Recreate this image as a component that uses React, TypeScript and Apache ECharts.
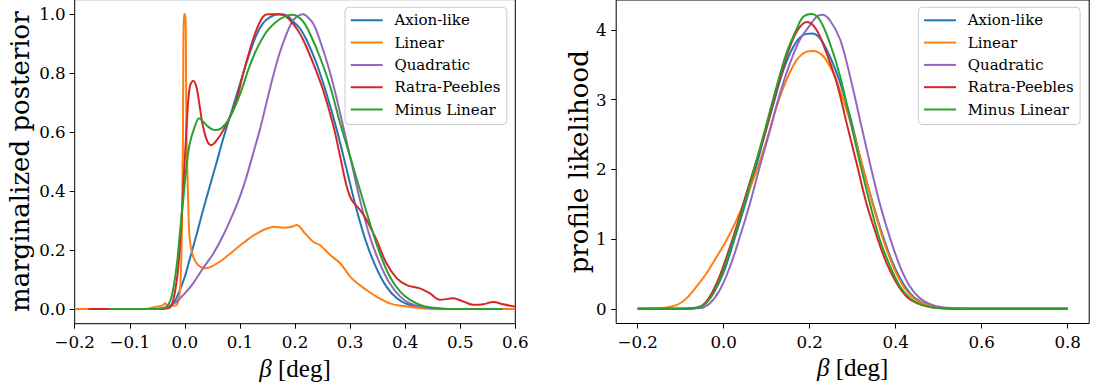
import React, { useEffect, useRef } from 'react';
import * as echarts from 'echarts';

const FONT = 'DejaVu Serif';
const MATH_FONT = 'Liberation Serif';

const seriesNames = ['Axion-like', 'Linear', 'Quadratic', 'Ratra-Peebles', 'Minus Linear'];
const seriesColors = ['#1f77b4', '#ff7f0e', '#9467bd', '#d62728', '#2ca02c'];

const posteriorXTicks = [-0.2, -0.1, 0, 0.1, 0.2, 0.3, 0.4, 0.5, 0.6];
const posteriorYTicks = [0, 0.2, 0.4, 0.6, 0.8, 1.0];
const likelihoodXTicks = [-0.2, 0, 0.2, 0.4, 0.6, 0.8];
const likelihoodYTicks = [0, 1, 2, 3, 4];

// Left panel: marginalized posterior, [beta, value]
const axionPosterior = [
  [-0.2, 0], [-0.1, 0], [-0.05, 0], [-0.033, 0.005], [-0.021, 0.019], [-0.009, 0.064], [0, 0.11],
  [0.009, 0.17], [0.021, 0.25], [0.033, 0.335], [0.045, 0.415], [0.058, 0.5], [0.07, 0.58],
  [0.088, 0.69], [0.106, 0.80], [0.118, 0.87], [0.13, 0.93], [0.142, 0.97], [0.154, 0.99],
  [0.17, 1.0], [0.185, 0.996], [0.197, 0.975], [0.209, 0.952], [0.221, 0.913], [0.239, 0.834],
  [0.257, 0.732], [0.276, 0.607], [0.294, 0.472], [0.312, 0.336], [0.33, 0.223], [0.348, 0.138],
  [0.366, 0.076], [0.385, 0.036], [0.403, 0.017], [0.433, 0.006], [0.463, 0.001], [0.5, 0], [0.6, 0],
];
const linearPosterior = [
  [-0.2, 0], [-0.07, 0], [-0.06, 0.004], [-0.05, 0.008], [-0.04, 0.012], [-0.036, 0.019],
  [-0.03, 0.01], [-0.015, 0.014], [-0.008, 0.087], [-0.004, 0.48], [-0.0015, 1.0], [0.0008, 1.0],
  [0.003, 0.6], [0.0063, 0.347], [0.009, 0.234], [0.015, 0.178], [0.024, 0.149], [0.036, 0.138],
  [0.048, 0.144], [0.064, 0.161], [0.079, 0.183], [0.094, 0.206], [0.109, 0.228], [0.121, 0.245],
  [0.136, 0.262], [0.151, 0.274], [0.163, 0.279], [0.179, 0.276], [0.194, 0.279], [0.203, 0.285],
  [0.218, 0.257], [0.233, 0.228], [0.245, 0.217], [0.264, 0.183], [0.282, 0.155], [0.3, 0.11],
  [0.312, 0.089], [0.33, 0.064], [0.348, 0.042], [0.372, 0.019], [0.403, 0.008], [0.433, 0.002],
  [0.5, 0], [0.6, 0],
];
const quadraticPosterior = [
  [-0.15, 0], [-0.05, 0], [-0.033, 0.005], [-0.015, 0.025], [0, 0.053], [0.015, 0.087],
  [0.033, 0.138], [0.052, 0.189], [0.07, 0.251], [0.088, 0.325], [0.1, 0.381], [0.112, 0.449],
  [0.124, 0.528], [0.136, 0.607], [0.148, 0.698], [0.16, 0.788], [0.172, 0.868], [0.185, 0.935],
  [0.197, 0.981], [0.209, 0.998], [0.215, 1.0], [0.221, 0.994], [0.233, 0.969], [0.245, 0.913],
  [0.264, 0.8], [0.282, 0.664], [0.3, 0.517], [0.318, 0.37], [0.336, 0.245], [0.354, 0.155],
  [0.372, 0.087], [0.391, 0.042], [0.409, 0.019], [0.433, 0.006], [0.463, 0.001], [0.5, 0], [0.57, 0],
];
const ratraPeeblesPosterior = [
  [-0.175, 0], [-0.05, 0], [-0.03, 0.002], [-0.021, 0.03], [-0.012, 0.14], [-0.006, 0.31],
  [0.0, 0.51], [0.005, 0.675], [0.009, 0.754], [0.015, 0.775], [0.021, 0.754], [0.027, 0.687],
  [0.033, 0.619], [0.041, 0.568], [0.048, 0.556], [0.058, 0.573], [0.07, 0.607], [0.085, 0.664],
  [0.094, 0.709], [0.106, 0.8], [0.118, 0.879], [0.13, 0.947], [0.142, 0.992], [0.151, 1.0],
  [0.167, 1.0], [0.179, 0.998], [0.191, 0.98], [0.203, 0.952], [0.215, 0.913], [0.233, 0.834],
  [0.251, 0.743], [0.27, 0.619], [0.282, 0.517], [0.294, 0.415], [0.303, 0.37], [0.318, 0.336],
  [0.33, 0.302], [0.348, 0.234], [0.366, 0.155], [0.385, 0.104], [0.403, 0.081], [0.427, 0.07],
  [0.445, 0.053], [0.463, 0.031], [0.487, 0.036], [0.506, 0.025], [0.524, 0.014], [0.542, 0.016],
  [0.56, 0.024], [0.578, 0.016], [0.6, 0.008],
];
const minusLinearPosterior = [
  [-0.136, 0], [-0.05, 0], [-0.033, 0.008], [-0.024, 0.042], [-0.015, 0.144], [-0.009, 0.257],
  [-0.003, 0.37], [0.003, 0.483], [0.009, 0.562], [0.018, 0.619], [0.026, 0.647], [0.033, 0.636],
  [0.042, 0.619], [0.054, 0.607], [0.066, 0.613], [0.079, 0.641], [0.091, 0.687], [0.103, 0.743],
  [0.115, 0.811], [0.127, 0.868], [0.139, 0.913], [0.151, 0.947], [0.166, 0.975], [0.181, 0.992],
  [0.194, 0.999], [0.203, 0.995], [0.215, 0.975], [0.227, 0.935], [0.245, 0.856], [0.264, 0.754],
  [0.282, 0.63], [0.3, 0.517], [0.318, 0.404], [0.336, 0.291], [0.354, 0.189], [0.372, 0.11],
  [0.391, 0.059], [0.409, 0.031], [0.433, 0.01], [0.463, 0.002], [0.5, 0], [0.577, 0],
];

// Right panel: profile likelihood, [beta, value]
const axionLikelihood = [
  [-0.2, 0], [-0.1, 0], [-0.071, 0.01], [-0.047, 0.057], [-0.024, 0.225], [-0.001, 0.51],
  [0.022, 0.94], [0.046, 1.42], [0.069, 1.9], [0.092, 2.42], [0.116, 2.95], [0.139, 3.43],
  [0.162, 3.76], [0.185, 3.93], [0.205, 3.95], [0.224, 3.88], [0.247, 3.62], [0.271, 3.24],
  [0.294, 2.76], [0.317, 2.18], [0.34, 1.66], [0.363, 1.18], [0.387, 0.75], [0.41, 0.44],
  [0.433, 0.225], [0.456, 0.105], [0.487, 0.033], [0.526, 0.005], [0.6, 0], [0.8, 0],
];
const linearLikelihood = [
  [-0.2, 0], [-0.148, 0.01], [-0.109, 0.057], [-0.086, 0.153], [-0.063, 0.32], [-0.04, 0.51],
  [-0.016, 0.75], [0.007, 0.99], [0.03, 1.276], [0.053, 1.61], [0.077, 1.99], [0.1, 2.42],
  [0.123, 2.9], [0.146, 3.28], [0.17, 3.57], [0.193, 3.69], [0.208, 3.7], [0.232, 3.62],
  [0.255, 3.38], [0.278, 3.0], [0.302, 2.52], [0.325, 1.99], [0.348, 1.47], [0.371, 0.99],
  [0.394, 0.61], [0.418, 0.32], [0.441, 0.153], [0.464, 0.072], [0.495, 0.024], [0.534, 0.005],
  [0.6, 0], [0.8, 0],
];
const quadraticLikelihood = [
  [-0.2, 0], [-0.1, 0], [-0.055, 0.01], [-0.032, 0.081], [-0.009, 0.27], [0.015, 0.61],
  [0.038, 1.04], [0.061, 1.51], [0.084, 2.04], [0.108, 2.57], [0.131, 3.09], [0.154, 3.52],
  [0.177, 3.86], [0.201, 4.07], [0.216, 4.19], [0.229, 4.22], [0.247, 4.14], [0.271, 3.86],
  [0.294, 3.33], [0.317, 2.71], [0.34, 2.09], [0.363, 1.51], [0.387, 1.01], [0.41, 0.61],
  [0.433, 0.32], [0.456, 0.153], [0.48, 0.067], [0.511, 0.019], [0.55, 0.003], [0.6, 0], [0.8, 0],
];
const ratraPeeblesLikelihood = [
  [-0.2, 0], [-0.1, 0], [-0.063, 0.01], [-0.04, 0.105], [-0.016, 0.37], [0.007, 0.75],
  [0.03, 1.18], [0.053, 1.66], [0.077, 2.14], [0.1, 2.61], [0.123, 3.14], [0.146, 3.62],
  [0.17, 3.98], [0.194, 4.115], [0.216, 4.0], [0.239, 3.67], [0.263, 3.24], [0.286, 2.66],
  [0.309, 2.09], [0.332, 1.51], [0.356, 1.04], [0.379, 0.65], [0.402, 0.37], [0.425, 0.177],
  [0.449, 0.081], [0.48, 0.024], [0.519, 0.005], [0.6, 0], [0.8, 0],
];
const minusLinearLikelihood = [
  [-0.2, 0], [-0.1, 0], [-0.063, 0.01], [-0.04, 0.09], [-0.016, 0.32], [0.007, 0.7],
  [0.03, 1.13], [0.053, 1.61], [0.077, 2.14], [0.1, 2.66], [0.123, 3.19], [0.146, 3.67],
  [0.17, 4.02], [0.185, 4.19], [0.205, 4.23], [0.224, 4.14], [0.247, 3.81], [0.271, 3.33],
  [0.294, 2.71], [0.317, 2.09], [0.34, 1.51], [0.363, 0.99], [0.387, 0.61], [0.41, 0.32],
  [0.433, 0.153], [0.456, 0.067], [0.487, 0.019], [0.526, 0.003], [0.6, 0], [0.8, 0],
];

const posteriorData = [axionPosterior, linearPosterior, quadraticPosterior, ratraPeeblesPosterior, minusLinearPosterior];
const likelihoodData = [axionLikelihood, linearLikelihood, quadraticLikelihood, ratraPeeblesLikelihood, minusLinearLikelihood];

const fmt = (digits: number) => (v: number) => {
  const s = Math.abs(v).toFixed(digits);
  return v < -1e-9 ? '\u2212' + s : s;
};

const TICK_FONT = 16.7;
const LABEL_FONT = 26;
const XLABEL_FONT = 25;

function xAxisCfg(gridIndex: number, min: number, max: number, ticks: number[], digits: number, gap: number) {
  return {
    type: 'value', gridIndex, min, max,
    axisLine: { show: false, onZero: false },
    splitLine: { show: false },
    axisTick: { show: true, inside: false, length: 5, customValues: ticks, lineStyle: { color: '#000', width: 1 } },
    axisLabel: {
      customValues: ticks, formatter: fmt(digits), margin: 10, color: '#000',
      fontFamily: FONT, fontSize: TICK_FONT, hideOverlap: false,
    },
    name: '{i|β} [deg]', nameLocation: 'middle', nameGap: gap,
    nameTextStyle: {
      fontFamily: MATH_FONT, fontSize: XLABEL_FONT, color: '#000',
      rich: { i: { fontFamily: MATH_FONT, fontSize: XLABEL_FONT, fontStyle: 'italic', color: '#000' } },
    },
  };
}

function yAxisCfg(gridIndex: number, min: number, max: number, ticks: number[], digits: number, name: string, gap: number, margin: number) {
  return {
    type: 'value', gridIndex, min, max,
    axisLine: { show: false, onZero: false },
    splitLine: { show: false },
    axisTick: { show: true, inside: false, length: 5, customValues: ticks, lineStyle: { color: '#000', width: 1 } },
    axisLabel: {
      customValues: ticks, formatter: fmt(digits), margin, color: '#000',
      fontFamily: FONT, fontSize: TICK_FONT, hideOverlap: false,
    },
    name, nameLocation: 'middle', nameGap: gap, nameRotate: 90,
    nameTextStyle: { fontFamily: FONT, fontSize: LABEL_FONT, color: '#000' },
  };
}

const legendCommon = {
  orient: 'vertical',
  icon: 'rect',
  itemWidth: 32,
  itemHeight: 2,
  itemGap: 6.3,
  padding: [5, 6.5, 7, 5.7],
  backgroundColor: 'rgba(255,255,255,0.8)',
  borderColor: '#cccccc',
  borderWidth: 1,
  borderRadius: 4,
  selectedMode: false,
  itemStyle: { borderWidth: 0 },
  textStyle: { fontFamily: FONT, fontSize: 15, color: '#000', lineHeight: 16, padding: [0, 0, 0, 6.7] },
  data: seriesNames,
};

export default function App() {
  const ref = useRef<HTMLDivElement>(null);
  useEffect(() => {
    if (!ref.current) return;
    const chart = echarts.init(ref.current, undefined, { renderer: 'svg' });
    const series: any[] = [];
    posteriorData.forEach((d, i) => {
      series.push({
        type: 'line', name: seriesNames[i], xAxisIndex: 0, yAxisIndex: 0, data: d,
        symbol: 'none', smooth: 0.35, color: seriesColors[i],
        lineStyle: { width: 2, color: seriesColors[i] },
      });
    });
    likelihoodData.forEach((d, i) => {
      series.push({
        type: 'line', name: seriesNames[i], xAxisIndex: 1, yAxisIndex: 1, data: d,
        symbol: 'none', smooth: 0.35, color: seriesColors[i],
        lineStyle: { width: 2, color: seriesColors[i] },
      });
    });
    chart.setOption({
      animation: false,
      backgroundColor: '#ffffff',
      textStyle: { fontFamily: FONT },
      grid: [
        { left: 74.7, top: -0.4, width: 440.6, height: 324.1, show: true, borderColor: '#000', borderWidth: 1, backgroundColor: 'transparent', containLabel: false, outerBoundsMode: 'none' },
        { left: 616.2, top: 0, width: 473, height: 323.5, show: true, borderColor: '#000', borderWidth: 1, backgroundColor: 'transparent', containLabel: false, outerBoundsMode: 'none' },
      ],
      xAxis: [
        xAxisCfg(0, -0.2, 0.6, posteriorXTicks, 1, 28),
        xAxisCfg(1, -0.25, 0.85, likelihoodXTicks, 1, 28),
      ],
      yAxis: [
        yAxisCfg(0, -0.05, 1.05, posteriorYTicks, 1, 'marginalized posterior', 42, 9),
        yAxisCfg(1, -0.211, 4.43, likelihoodYTicks, 0, 'profile likelihood', 24, 9.5),
      ],
      legend: [
        { ...legendCommon, left: 345, top: 7.3 },
        { ...legendCommon, left: 918.3, top: 7.3 },
      ],
      series,
    });
    return () => chart.dispose();
  }, []);
  return <div ref={ref} style={{ position: 'absolute', left: 0, top: 0, width: 1095, height: 387 }} />;
}
